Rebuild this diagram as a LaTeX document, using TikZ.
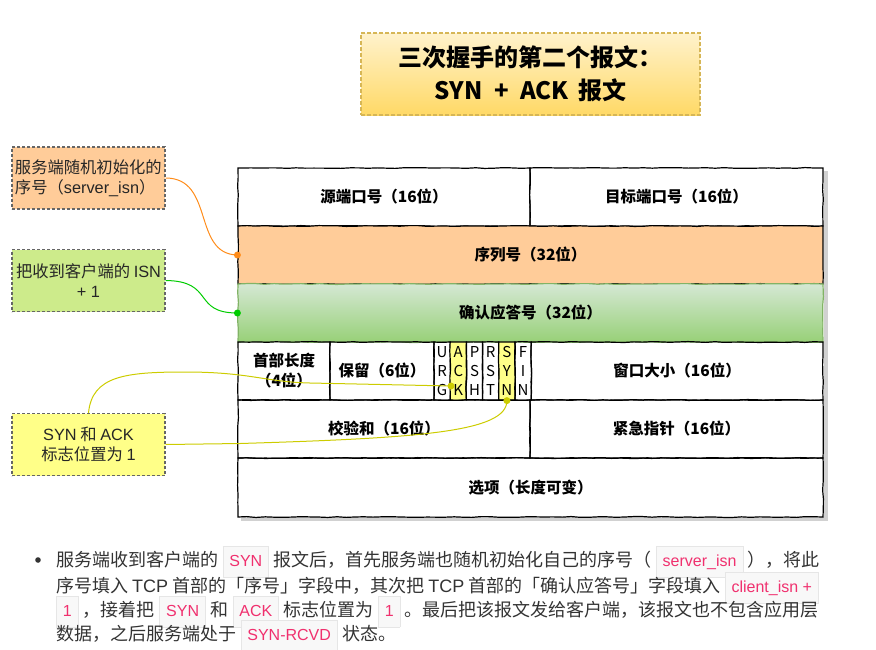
\documentclass[tikz,border=0pt]{standalone}
\usepackage{fontspec}
\setmainfont{Noto Sans CJK SC}
\newfontfamily\lat{Liberation Sans}
\usetikzlibrary{decorations.pathmorphing,calc}
\definecolor{seqfill}{HTML}{FFCC99}
\definecolor{acktop}{HTML}{D5E8D4}
\definecolor{ackbot}{HTML}{97D077}
\definecolor{ackborder}{HTML}{82B366}
\definecolor{flagfill}{HTML}{FFFF88}
\definecolor{titletop}{HTML}{FFF2CC}
\definecolor{titlebot}{HTML}{FFD966}
\definecolor{titleborder}{HTML}{D6B656}
\definecolor{greenbox}{HTML}{CDEB8B}
\definecolor{yellowbox}{HTML}{FFFF88}
\definecolor{oline}{HTML}{FF8C1A}
\definecolor{gline}{HTML}{00CC00}
\definecolor{yline}{HTML}{CCCC00}
\definecolor{bodytext}{HTML}{333333}
\definecolor{codefg}{HTML}{F0306E}
\definecolor{codebg}{HTML}{F8F8F8}
\definecolor{codeborder}{HTML}{E6E6E6}
\newcommand{\cd}[1]{\hspace{4.5pt}{\setlength{\fboxsep}{4pt}\setlength{\fboxrule}{0.7pt}\fontsize{16}{22}\selectfont\fcolorbox{codeborder}{codebg}{\hspace{2pt}\textcolor{codefg}{\strut\lat #1}\hspace{2pt}}}\hspace{4.5pt}}
\tikzset{
  cell/.style={draw=black, line width=1.2pt, minimum height=58pt, inner sep=0pt,
    font=\bfseries\fontsize{15.5}{20}\selectfont, align=center,
    decorate, decoration={random steps, segment length=9pt, amplitude=0.45pt}},
  flagcell/.style={cell, minimum width=16.2pt, font=\fontsize{15}{19}\selectfont},
  callout/.style={draw=black!60, line width=1.1pt, dash pattern=on 3pt off 2pt,
    minimum width=153pt, minimum height=62pt, inner sep=2pt,
    font=\fontsize{16.3}{20}\selectfont, align=center, text=black!85},
  conn/.style={line width=1pt},
  dotmark/.style={circle, inner sep=0pt, minimum size=7pt},
  bodyline/.style={anchor=base west, inner sep=0pt, text=bodytext, font=\fontsize{18}{22}\selectfont}
}
\begin{document}
\begin{tikzpicture}[x=1pt,y=-1pt]
\useasboundingbox (0,0) rectangle (876,649);
% title
\node[draw=titleborder, line width=1.2pt, dash pattern=on 4pt off 2pt,
      top color=titletop, bottom color=titlebot, minimum width=339pt, minimum height=82pt,
      font=\bfseries\fontsize{24}{33}\selectfont, align=center] (title) at (530.5,74)
      {三次握手的第二个报文：\\SYN\hspace{6pt} +\hspace{6pt} ACK\hspace{4pt} 报文};
% shadow of table
\fill[black!18] (824,171) rectangle (827.5,520);
\fill[black!18] (241,517) rectangle (827.5,520.5);
% table
\node[cell, minimum width=292pt] (sport) at (384,197) {源端口号（16位）};
\node[cell, minimum width=293pt] (dport) at (676.5,197) {目标端口号（16位）};
\node[cell, minimum width=585pt, fill=seqfill] (seq) at (530.5,255) {序列号（32位）};
\node[cell, minimum width=585pt, draw=ackborder, top color=acktop, bottom color=ackbot] (ack) at (530.5,313) {确认应答号（32位）};
\node[cell, minimum width=92pt] (hlen) at (284,371) {首部长度\\（4位）};
\node[cell, minimum width=104pt] (rsv) at (382,371) {保留（6位）};
\node[flagcell] (fU) at (442.1,371) {U\\R\\G};
\node[flagcell, fill=flagfill] (fA) at (458.3,371) {A\\C\\K};
\node[flagcell] (fP) at (474.5,371) {P\\S\\H};
\node[flagcell] (fR) at (490.7,371) {R\\S\\T};
\node[flagcell, fill=flagfill] (fS) at (506.9,371) {S\\Y\\N};
\node[flagcell] (fF) at (523.1,371) {F\\I\\N};
\node[cell, minimum width=291.8pt] (win) at (677.1,371) {窗口大小（16位）};
\node[cell, minimum width=292pt] (csum) at (384,429) {校验和（16位）};
\node[cell, minimum width=293pt] (urg) at (676.5,429) {紧急指针（16位）};
\node[cell, minimum width=585pt, minimum height=59pt] (opt) at (530.5,487.5) {选项（长度可变）};
% callouts
\node[callout, fill=seqfill, text width=147pt, align=left] (b1) at (88.5,178) {服务端随机初始化的\\序号（{\lat server\_isn}）};
\node[callout, fill=greenbox] (b2) at (88.5,280.5) {把收到客户端的 {\lat ISN}\\{\lat + 1}};
\node[callout, fill=yellowbox] (b3) at (88.5,444.5) {{\lat SYN} 和 {\lat ACK}\\标志位置为 {\lat 1}};
% connectors
\coordinate (ackdot) at (451,386);
\coordinate (syndot) at (fS.south);
\draw[conn, oline] (b1.east) .. controls (215,178) and (192,254) .. (seq.west);
\node[dotmark, fill=oline] (od) at (seq.west) {};
\draw[conn, gline] (b2.east) .. controls (215,281) and (192,313) .. (ack.west);
\node[dotmark, fill=gline] (gd) at (ack.west) {};
\draw[conn, yline] (b3.north) .. controls (92,376) and (125,372) .. (185,372)
   .. controls (250,372) and (265,382) .. (310,383) -- (ackdot);
\node[dotmark, fill=yline] (ad) at (ackdot) {};
\draw[conn, yline] (b3.east) -- (240,443.5) .. controls (420,438) and (507,432) .. (syndot);
\node[dotmark, fill=yline] (sd) at (syndot) {};
% bottom text
\fill[bodytext] (38,560) circle (2.8pt);
\node[bodyline] (l1) at (56,566) {服务端收到客户端的\cd{SYN}报文后，首先服务端也随机初始化自己的序号（\cd{server\_isn}），将此};
\node[bodyline] (l2) at (56,592) {序号填入 {\lat TCP} 首部的「序号」字段中，其次把 {\lat TCP} 首部的「确认应答号」字段填入\cd{client\_isn +}};
\node[bodyline] (l3) at (56,616) {\hspace{-4.5pt}\cd{1}，接着把\cd{SYN}和\cd{ACK}标志位置为\cd{1}。最后把该报文发给客户端，该报文也不包含应用层};
\node[bodyline] (l4) at (56,640) {数据，之后服务端处于\cd{SYN-RCVD}状态。};
\end{tikzpicture}
\end{document}
